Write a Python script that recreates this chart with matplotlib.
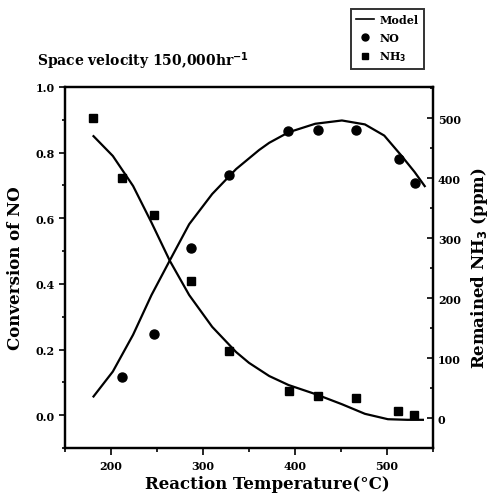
import matplotlib
matplotlib.use('Agg')
import matplotlib.pyplot as plt
from matplotlib.lines import Line2D
from matplotlib.ticker import MultipleLocator

# measured points
no_temp = [212, 247, 287, 328, 392, 425, 466, 513, 530]
no_conv = [0.115, 0.246, 0.508, 0.733, 0.866, 0.870, 0.868, 0.782, 0.707]
nh3_temp = [180, 212, 247, 287, 328, 393, 425, 466, 512, 529]
nh3_ppm = [501, 400, 338, 228, 112, 45, 36, 33, 11, 5]

# model curves
model_no_temp = [181, 202, 224, 244, 264, 285, 310, 336, 361, 372, 393, 422,
                 451, 476, 497, 515, 530, 541]
model_no_conv = [0.057, 0.133, 0.245, 0.366, 0.472, 0.582, 0.674, 0.750, 0.808,
                 0.830, 0.862, 0.888, 0.898, 0.886, 0.852, 0.793, 0.741, 0.698]
model_nh3_temp = [181, 202, 224, 244, 264, 285, 310, 336, 350, 372, 393, 422,
                  451, 476, 501, 522, 539]
model_nh3_ppm = [470, 437, 387, 326, 262, 205, 152, 110, 92, 70, 55, 40,
                 23, 7, -2, -3, -3]

x_ticks = [200, 300, 400, 500]
left_ticks = [0.0, 0.2, 0.4, 0.6, 0.8, 1.0]
right_ticks = [0, 100, 200, 300, 400, 500]

plt.rcParams['font.family'] = ['DejaVu Serif']
plt.rcParams['font.weight'] = 'bold'

fig = plt.figure(figsize=(4.9, 5.02), dpi=100)
ax = fig.add_axes([65 / 490, 1 - 449 / 502, 368 / 490, 361 / 502])
ax2 = ax.twinx()

ax.plot(model_no_temp, model_no_conv, color='black', lw=1.6)
ax.plot(no_temp, no_conv, 'o', color='black', ms=6.5)
ax2.plot(model_nh3_temp, model_nh3_ppm, color='black', lw=1.6)
ax2.plot(nh3_temp, nh3_ppm, 's', color='black', ms=6)

ax.set_xlim(150, 550)
ax.set_ylim(-0.1, 1.0)
ax2.set_ylim(-50, 552)

ax.set_xticks(x_ticks)
ax.set_xticklabels([str(t) for t in x_ticks], fontsize=8, fontweight='bold')
ax.xaxis.set_minor_locator(MultipleLocator(50))
ax.set_yticks(left_ticks)
ax.set_yticklabels(['%.1f' % t for t in left_ticks], fontsize=8, fontweight='bold')
ax.yaxis.set_minor_locator(MultipleLocator(0.1))
ax2.set_yticks(right_ticks)
ax2.set_yticklabels([str(t) for t in right_ticks], fontsize=8, fontweight='bold')
ax2.yaxis.set_minor_locator(MultipleLocator(50))

ax.tick_params(axis='x', which='both', direction='out', top=False, width=1.2)
ax.tick_params(axis='x', which='major', length=5)
ax.tick_params(axis='x', which='minor', length=3)
ax.tick_params(axis='y', which='both', direction='out', width=1.2)
ax.tick_params(axis='y', which='major', length=4)
ax.tick_params(axis='y', which='minor', length=2.5)
ax2.tick_params(axis='y', which='both', direction='in', width=1.2)
ax2.tick_params(axis='y', which='major', length=4)
ax2.tick_params(axis='y', which='minor', length=2.5)

for a in (ax, ax2):
    for s in a.spines.values():
        s.set_linewidth(1.6)

ax.set_xlabel('Reaction Temperature(\u00b0C)', fontsize=12, fontweight='bold', labelpad=6)
ax.xaxis.set_label_coords(0.55, -0.075)
ax.set_ylabel('Conversion of NO', fontsize=12, fontweight='bold', labelpad=8)
ax2.set_ylabel('Remained NH$_3$ (ppm)', fontsize=12, fontweight='bold', labelpad=6)

fig.text(37 / 490, 1 - 66 / 502, 'Space velocity 150,000hr$^{-1}$', fontsize=10,
         fontweight='bold', va='baseline')

handles = [
    Line2D([], [], color='black', lw=1.2),
    Line2D([], [], marker='o', ls='none', color='black', ms=5),
    Line2D([], [], marker='s', ls='none', color='black', ms=5),
]
leg = fig.legend(handles, ['Model', 'NO', 'NH$_3$'], loc='upper left',
                 bbox_to_anchor=(345 / 490, 1 - 4 / 502), fontsize=8,
                 frameon=True, fancybox=False, handlelength=1.6,
                 borderpad=0.5, labelspacing=0.6, handletextpad=0.5)
leg.get_frame().set_edgecolor('black')
leg.get_frame().set_linewidth(1.4)
for t in leg.get_texts():
    t.set_fontweight('bold')

fig.savefig('out.png', dpi=100)
